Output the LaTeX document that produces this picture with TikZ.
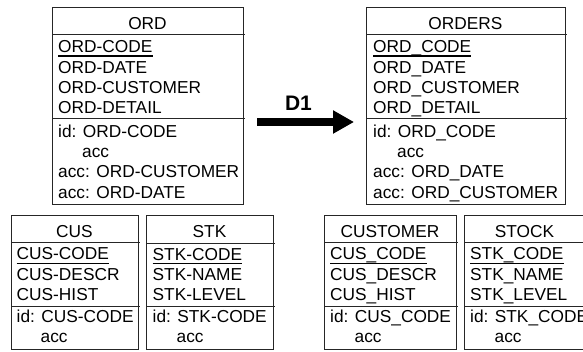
\documentclass[tikz,border=0pt]{standalone}
\usepackage{fontspec}
\setmainfont{Liberation Sans}
\usetikzlibrary{arrows.meta,fit}

\newcommand{\entfont}{\fontsize{17.3}{20}\selectfont}

\tikzset{
  frame/.style={draw=black!85, line width=0.9pt, inner sep=0pt, outer sep=0pt},
  rule/.style={draw=black!85, line width=0.9pt},
  keyline/.style={draw=black, line width=1.4pt},
  txt/.style={anchor=base west, inner sep=0pt, font=\entfont},
  ttl/.style={anchor=base, inner sep=0pt, font=\entfont},
  bigarrow/.style={line width=7.5pt, -{Triangle[length=21pt,width=22pt]}},
  lbl/.style={anchor=base, inner sep=0pt, font=\fontsize{21}{24}\selectfont\bfseries},
}

\begin{document}
\begin{tikzpicture}[x=1pt, y=-1pt]
\useasboundingbox (0,0) rectangle (583,352);

% ---------- ORD ----------
\node[frame, fit={(52,7) (243,204)}] (ord) {};
\draw[rule] (52,34) -- (245,34);
\draw[rule] (52,118) -- (245,118);
\node[ttl] (ordT) at (147.5,30) {ORD};
\node[txt] (ord1) at (58,52.7)  {ORD-CODE};
\node[txt] (ord2) at (58,73.1)  {ORD-DATE};
\node[txt] (ord3) at (58,93.5)  {ORD-CUSTOMER};
\node[txt] (ord4) at (58,113.8) {ORD-DETAIL};
\node[txt] (ord5) at (58,137.3) {id: ORD-CODE};
\node[txt] (ord6) at (82,157.5) {acc};
\node[txt] (ord7) at (58,177.8) {acc: ORD-CUSTOMER};
\node[txt] (ord8) at (58,198.1) {acc: ORD-DATE};
\draw[keyline] ([yshift=-3.5pt]ord1.base west) -- ([yshift=-3.5pt]ord1.base east);

% ---------- ORDERS ----------
\node[frame, fit={(366,7) (565,204)}] (orders) {};
\draw[rule] (366,34) -- (567,34);
\draw[rule] (366,118) -- (567,118);
\node[ttl] (orsT) at (465.5,30) {ORDERS};
\node[txt] (ors1) at (373,52.7)  {ORD\_CODE};
\node[txt] (ors2) at (373,73.1)  {ORD\_DATE};
\node[txt] (ors3) at (373,93.5)  {ORD\_CUSTOMER};
\node[txt] (ors4) at (373,113.8) {ORD\_DETAIL};
\node[txt] (ors5) at (373,137.3) {id: ORD\_CODE};
\node[txt] (ors6) at (397,157.5) {acc};
\node[txt] (ors7) at (373,177.8) {acc: ORD\_DATE};
\node[txt] (ors8) at (373,198.1) {acc: ORD\_CUSTOMER};
\draw[keyline] ([yshift=-3.5pt]ors1.base west) -- ([yshift=-3.5pt]ors1.base east);

% ---------- CUS ----------
\node[frame, fit={(11,215) (138,349.5)}] (cus) {};
\draw[rule] (11,242.5) -- (140,242.5);
\draw[rule] (11,306) -- (140,306);
\node[ttl] (cusT) at (74.5,237.3) {CUS};
\node[txt] (cus1) at (16.5,260)   {CUS-CODE};
\node[txt] (cus2) at (16.5,280.3) {CUS-DESCR};
\node[txt] (cus3) at (16.5,300.6) {CUS-HIST};
\node[txt] (cus4) at (16.5,323)   {id: CUS-CODE};
\node[txt] (cus5) at (40.5,342)   {acc};
\draw[keyline] ([yshift=-3.5pt]cus1.base west) -- ([yshift=-3.5pt]cus1.base east);

% ---------- STK ----------
\node[frame, fit={(146,215.5) (273,349.5)}] (stk) {};
\draw[rule] (146,243) -- (275,243);
\draw[rule] (146,306.5) -- (275,306.5);
\node[ttl] (stkT) at (209.5,237.5) {STK};
\node[txt] (stk1) at (152.5,260.3) {STK-CODE};
\node[txt] (stk2) at (152.5,280.6) {STK-NAME};
\node[txt] (stk3) at (152.5,300.9) {STK-LEVEL};
\node[txt] (stk4) at (152.5,323)   {id: STK-CODE};
\node[txt] (stk5) at (176.5,342)   {acc};
\draw[keyline] ([yshift=-3.5pt]stk1.base west) -- ([yshift=-3.5pt]stk1.base east);

% ---------- CUSTOMER ----------
\node[frame, fit={(324,215) (456,349.5)}] (customer) {};
\draw[rule] (324,242.5) -- (458,242.5);
\draw[rule] (324,306) -- (458,306);
\node[ttl] (cstT) at (390,237.3) {CUSTOMER};
\node[txt] (cst1) at (330,260)   {CUS\_CODE};
\node[txt] (cst2) at (330,280.3) {CUS\_DESCR};
\node[txt] (cst3) at (330,300.6) {CUS\_HIST};
\node[txt] (cst4) at (330,323)   {id: CUS\_CODE};
\node[txt] (cst5) at (354.5,342) {acc};
\draw[keyline] ([yshift=-3.5pt]cst1.base west) -- ([yshift=-3.5pt]cst1.base east);

% ---------- STOCK ----------
\node[frame, fit={(464.5,215) (585,349.5)}] (stock) {};
\draw[rule] (464.5,242.5) -- (587,242.5);
\draw[rule] (464.5,306) -- (587,306);
\node[ttl] (stoT) at (524.5,237.3) {STOCK};
\node[txt] (sto1) at (470,260)   {STK\_CODE};
\node[txt] (sto2) at (470,280.3) {STK\_NAME};
\node[txt] (sto3) at (470,300.6) {STK\_LEVEL};
\node[txt] (sto4) at (470,323)   {id: STK\_CODE};
\node[txt] (sto5) at (494.5,342) {acc};
\draw[keyline] ([yshift=-3.5pt]sto1.base west) -- ([yshift=-3.5pt]sto1.base east);

% ---------- transformation D1 ----------
\coordinate (d1from) at (257,122);
\coordinate (d1to) at (354,122);
\draw[bigarrow] (d1from) -- (d1to);
\node[lbl] (d1) at (298.5,111) {D1};
\end{tikzpicture}
\end{document}
